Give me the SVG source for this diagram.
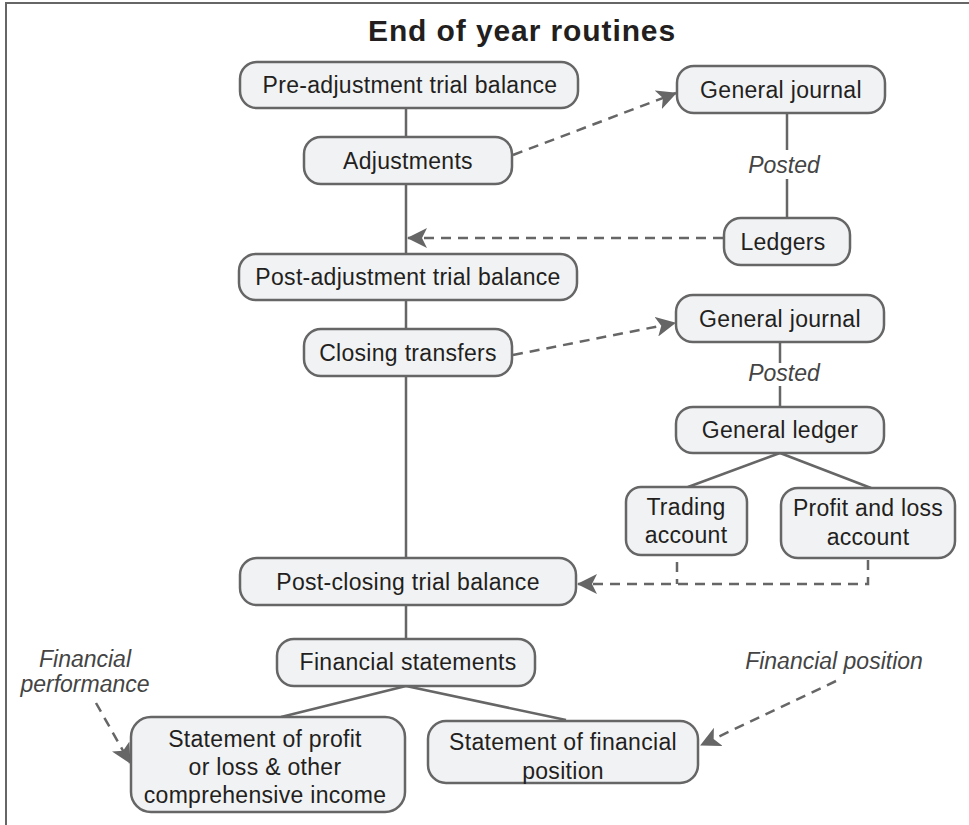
<svg xmlns="http://www.w3.org/2000/svg" width="969" height="825" viewBox="0 0 969 825">
  <style>
    .node rect { fill: #f1f2f4; stroke: #666; stroke-width: 2.5; }
    .node text, .title { font-family: "Liberation Sans", Arial, Helvetica, sans-serif; fill: #231f20; text-anchor: middle; }
    .node text { font-size: 23px; letter-spacing: 0.3px; }
    .title { font-size: 30px; font-weight: bold; letter-spacing: 0.9px; }
    .note { font-family: "Liberation Sans", Arial, Helvetica, sans-serif; font-size: 23px; font-style: italic; fill: #444; text-anchor: middle; }
    .solid { stroke: #666; stroke-width: 2.5; fill: none; }
    .dash { stroke: #666; stroke-width: 2.5; fill: none; stroke-dasharray: 10 7; }
    .frame { stroke: #666; stroke-width: 2; fill: none; }
  </style>
  <defs>
    <marker id="arrow" markerUnits="userSpaceOnUse" viewBox="0 0 20 20" markerWidth="20" markerHeight="20" refX="19" refY="10" orient="auto">
      <path d="M0,0 L20,10 L0,20 L5,10 Z" fill="#666"/>
    </marker>
  </defs>

  <rect width="969" height="825" fill="#fff"/>
  <!-- frame (top and left edges) -->
  <path class="frame" d="M6,825 V3 H969"/>

  <text class="title" x="522" y="41">End of year routines</text>

  <!-- connectors -->
  <g id="connectors">
    <!-- main spine -->
    <line class="solid" x1="406" y1="108" x2="406" y2="639"/>
    <!-- posted links -->
    <line class="solid" x1="787" y1="113" x2="787" y2="150"/>
    <line class="solid" x1="787" y1="179" x2="787" y2="218"/>
    <line class="solid" x1="780" y1="342" x2="780" y2="363"/>
    <line class="solid" x1="780" y1="386" x2="780" y2="407"/>
    <!-- general ledger branches -->
    <line class="solid" x1="780" y1="453" x2="688" y2="487"/>
    <line class="solid" x1="780" y1="453" x2="871" y2="488"/>
    <!-- financial statements branches -->
    <line class="solid" x1="406" y1="686" x2="281" y2="717"/>
    <line class="solid" x1="406" y1="686" x2="566" y2="720"/>
    <!-- dashed flows -->
    <line class="dash" x1="513" y1="155" x2="676" y2="93" marker-end="url(#arrow)"/>
    <line class="dash" x1="723" y1="238" x2="408" y2="238" marker-end="url(#arrow)"/>
    <line class="dash" x1="513" y1="355" x2="675" y2="323" marker-end="url(#arrow)"/>
    <line class="dash" x1="677" y1="562" x2="677" y2="584"/>
    <polyline class="dash" points="868,560 868,584 578,584" marker-end="url(#arrow)"/>
    <line class="dash" x1="96" y1="703" x2="130" y2="763" marker-end="url(#arrow)"/>
    <line class="dash" x1="836" y1="681" x2="701" y2="745" marker-end="url(#arrow)"/>
    <!-- labels -->
    <text class="note" x="784" y="173">Posted</text>
    <text class="note" x="784" y="381">Posted</text>
    <text class="note" x="85" y="667">Financial</text>
    <text class="note" x="85" y="692">performance</text>
    <text class="note" x="834" y="669">Financial position</text>
  </g>

  <g id="pre-adjustment" class="node">
    <rect x="240" y="62" width="338" height="46" rx="17"/>
    <text x="410" y="93">Pre-adjustment trial balance</text>
  </g>
  <g id="adjustments" class="node">
    <rect x="304" y="137" width="208" height="47" rx="17"/>
    <text x="408" y="169">Adjustments</text>
  </g>
  <g id="post-adjustment" class="node">
    <rect x="239" y="254" width="338" height="46" rx="17"/>
    <text x="408" y="285">Post-adjustment trial balance</text>
  </g>
  <g id="general-journal-1" class="node">
    <rect x="677" y="66" width="208" height="47" rx="17"/>
    <text x="781" y="98">General journal</text>
  </g>
  <g id="ledgers" class="node">
    <rect x="724" y="218" width="126" height="47" rx="17"/>
    <text x="783" y="250">Ledgers</text>
  </g>
  <g id="closing-transfers" class="node">
    <rect x="304" y="329" width="208" height="47" rx="17"/>
    <text x="408" y="361">Closing transfers</text>
  </g>
  <g id="general-journal-2" class="node">
    <rect x="676" y="295" width="208" height="47" rx="17"/>
    <text x="780" y="327">General journal</text>
  </g>
  <g id="general-ledger" class="node">
    <rect x="676" y="407" width="208" height="46" rx="17"/>
    <text x="780" y="438">General ledger</text>
  </g>
  <g id="trading-account" class="node">
    <rect x="626" y="487" width="121" height="68" rx="15"/>
    <text x="686" y="515">Trading</text>
    <text x="686" y="543">account</text>
  </g>
  <g id="profit-loss-account" class="node">
    <rect x="781" y="488" width="174" height="70" rx="17"/>
    <text x="868" y="516">Profit and loss</text>
    <text x="868" y="545">account</text>
  </g>
  <g id="post-closing" class="node">
    <rect x="240" y="558" width="336" height="47" rx="17"/>
    <text x="408" y="590">Post-closing trial balance</text>
  </g>
  <g id="financial-statements" class="node">
    <rect x="277" y="639" width="258" height="47" rx="17"/>
    <text x="408" y="670">Financial statements</text>
  </g>
  <g id="statement-profit-loss" class="node">
    <rect x="131" y="717" width="274" height="95" rx="20"/>
    <text x="265" y="747">Statement of profit</text>
    <text x="265" y="775">or loss &amp; other</text>
    <text x="265" y="803">comprehensive income</text>
  </g>
  <g id="statement-financial-position" class="node">
    <rect x="428" y="721" width="270" height="62" rx="18"/>
    <text x="563" y="750">Statement of financial</text>
    <text x="563" y="779">position</text>
  </g>
</svg>
